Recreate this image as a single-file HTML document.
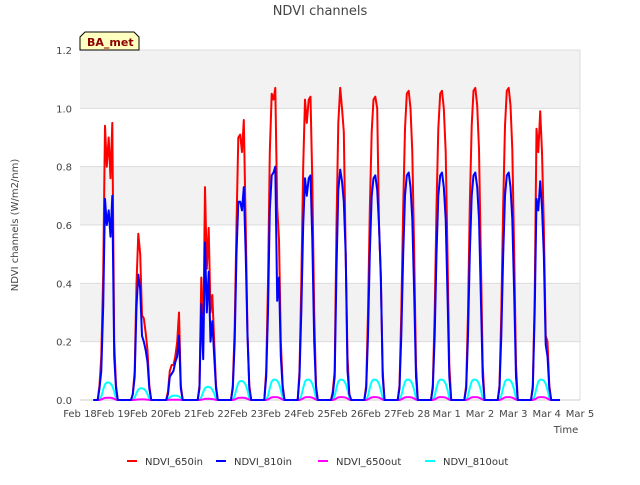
<!DOCTYPE html>
<html><head><meta charset="utf-8"><style>
body{margin:0;background:#fff;}
svg text{font-family:"DejaVu Sans","Liberation Sans",sans-serif;}
</style></head><body>
<svg id="chart" width="640" height="480" xmlns="http://www.w3.org/2000/svg">
<rect width="640" height="480" fill="#fff"/>
<g id="bands"></g>
<g id="grid"></g>
<g id="yticks"></g>
<g id="xticks"></g>
<g id="series"></g>
<text x="320" y="15" text-anchor="middle" font-size="13" fill="#444">NDVI channels</text>
<text transform="translate(18,225) rotate(-90)" text-anchor="middle" font-size="10" fill="#444">NDVI channels (W/m2/nm)</text>
<text x="566" y="433" text-anchor="middle" font-size="10" fill="#444">Time</text>
<g>
<path d="M80,50 L80,37 L85,32 L134,32 L139,37 L139,50 Z" fill="#ffffc0" stroke="#000" stroke-width="1"/>
<text x="87" y="46" font-size="11" font-weight="bold" fill="#8b0000">BA_met</text>
</g>
<g id="legend"></g>
</svg>
<script>
const yTicks=[0,0.2,0.4,0.6,0.8,1.0,1.2];
const xTickLabels=["Feb 18","Feb 19","Feb 20","Feb 21","Feb 22","Feb 23","Feb 24","Feb 25","Feb 26","Feb 27","Feb 28","Mar 1","Mar 2","Mar 3","Mar 4","Mar 5"];
const dayIndex=[1,2,3,4,5,6,7,8,9,10,11,12,13,14];
const in650=[
[0,0.05,0.15,0.43,0.94,0.8,0.9,0.76,0.95,0.2,0.05,0,0],
[0,0.02,0.1,0.4,0.57,0.5,0.29,0.28,0.23,0.17,0.05,0,0],
[0,0,0.03,0.1,0.12,0.12,0.15,0.2,0.3,0.05,0,0,0],
[0,0.05,0.42,0.2,0.73,0.45,0.59,0.3,0.36,0.2,0.05,0,0],
[0,0.05,0.25,0.6,0.9,0.91,0.85,0.96,0.6,0.23,0.05,0,0],
[0,0.1,0.4,0.85,1.05,1.03,1.07,0.66,0.55,0.2,0.05,0,0],
[0,0.1,0.4,0.8,1.03,0.95,1.03,1.04,0.75,0.3,0.05,0,0],
[0,0.03,0.1,0.6,0.95,1.07,1.0,0.92,0.5,0.15,0.02,0,0],
[0,0.05,0.3,0.65,0.92,1.03,1.04,1.0,0.6,0.42,0.1,0,0],
[0,0.05,0.3,0.66,0.93,1.05,1.06,1.0,0.85,0.5,0.12,0,0],
[0,0.05,0.3,0.66,0.93,1.05,1.06,1.0,0.85,0.5,0.12,0,0],
[0,0.05,0.3,0.67,0.94,1.06,1.07,1.01,0.86,0.5,0.12,0,0],
[0,0.05,0.3,0.67,0.94,1.06,1.07,1.01,0.86,0.5,0.12,0,0],
[0,0.05,0.35,0.93,0.85,0.99,0.85,0.6,0.22,0.2,0.05,0,0]];
const in810=[
[0,0.04,0.1,0.32,0.69,0.6,0.65,0.56,0.7,0.15,0.04,0,0],
[0,0.02,0.08,0.32,0.43,0.38,0.22,0.2,0.17,0.13,0.04,0,0],
[0,0,0.02,0.08,0.09,0.1,0.13,0.15,0.22,0.04,0,0,0],
[0,0.04,0.33,0.14,0.54,0.3,0.44,0.2,0.27,0.15,0.04,0,0],
[0,0.04,0.2,0.5,0.68,0.68,0.65,0.73,0.5,0.22,0.04,0,0],
[0,0.08,0.3,0.65,0.77,0.78,0.8,0.34,0.42,0.15,0.04,0,0],
[0,0.08,0.3,0.6,0.76,0.7,0.76,0.77,0.55,0.2,0.04,0,0],
[0,0.02,0.08,0.45,0.72,0.79,0.75,0.68,0.5,0.1,0.02,0,0],
[0,0.04,0.22,0.5,0.7,0.76,0.77,0.72,0.6,0.43,0.08,0,0],
[0,0.04,0.22,0.5,0.7,0.77,0.78,0.73,0.62,0.36,0.08,0,0],
[0,0.04,0.22,0.5,0.7,0.77,0.78,0.73,0.62,0.36,0.08,0,0],
[0,0.04,0.22,0.5,0.7,0.77,0.78,0.73,0.62,0.36,0.08,0,0],
[0,0.04,0.22,0.5,0.7,0.77,0.78,0.73,0.62,0.36,0.08,0,0],
[0,0.04,0.3,0.69,0.65,0.75,0.66,0.5,0.19,0.15,0.04,0,0]];
const out650=[0.008,0.002,0.001,0.004,0.008,0.01,0.01,0.01,0.01,0.01,0.01,0.01,0.01,0.01];
const out810=[0.06,0.04,0.015,0.045,0.065,0.07,0.07,0.07,0.07,0.07,0.07,0.07,0.07,0.07];
const outShape=[0,0,0.2,0.6,0.9,1,1,0.95,0.8,0.5,0.1,0,0];

const X0=80,X1=580,Y0=400,Y1=50;
const xs=d=>X0+d*(X1-X0)/15.0;
const ys=v=>Y0-(v/1.2)*(Y0-Y1);
const NS="http://www.w3.org/2000/svg";
function mk(tag,attrs,parent){const e=document.createElementNS(NS,tag);for(const k in attrs)e.setAttribute(k,attrs[k]);parent.appendChild(e);return e;}
const bands=document.getElementById('bands');
for(let i=0;i<yTicks.length-1;i++){
  if(i%2===1){const r=mk('rect',{x:X0,y:ys(yTicks[i+1]),width:X1-X0,height:ys(yTicks[i])-ys(yTicks[i+1]),fill:'#f2f2f2'},bands);
  
  }
}
const grid=document.getElementById('grid'),yt=document.getElementById('yticks');
yTicks.forEach(v=>{
  const l=mk('line',{x1:X0,x2:X1,y1:ys(v),y2:ys(v),stroke:'#dcdcdc','stroke-width':1},grid);
  
  
  const t=mk('text',{x:X0-8,y:ys(v)+4,'text-anchor':'end','font-size':10,fill:'#444'},yt);
  t.textContent=v.toFixed(1);
  
  
});
mk('line',{x1:X1,x2:X1,y1:Y1,y2:Y0,stroke:'#dcdcdc'},grid);
mk('line',{x1:X0,x2:X1,y1:Y0,y2:Y0,stroke:'#ccc'},grid);
const xt=document.getElementById('xticks');
xTickLabels.forEach((s,i)=>{
  const t=mk('text',{x:xs(i),y:Y0+17,'text-anchor':'middle','font-size':10,fill:'#444'},xt);
  t.textContent=s;
  
  
});
const offs=[];for(let j=0;j<13;j++)offs.push(-0.47+j*0.055);
function build(getVal){
  let pts=[[xs(0.4),ys(0)]];
  dayIndex.forEach((d,i)=>{for(let j=0;j<13;j++)pts.push([xs(d+offs[j]),ys(getVal(i,j))]);});
  pts.push([xs(14.4),ys(0)]);
  return pts.map((p,k)=>(k?'L':'M')+p[0].toFixed(1)+','+p[1].toFixed(1)).join('');
}
const ser=document.getElementById('series');
const defs=[
 ['series-ndvi-810out','#00ffff',(i,j)=>out810[i]*outShape[j]],
 ['series-ndvi-650out','#ff00ff',(i,j)=>out650[i]*outShape[j]],
 ['series-ndvi-650in','#ff0000',(i,j)=>in650[i][j]],
 ['series-ndvi-810in','#0000ff',(i,j)=>in810[i][j]]];
defs.forEach(d=>{
  const p=mk('path',{d:build(d[2]),fill:'none',stroke:d[1],'stroke-width':2,'stroke-linejoin':'round'},ser);
  
  
});
const lg=document.getElementById('legend');
const items=[['NDVI_650in','#ff0000',127],['NDVI_810in','#0000ff',216],['NDVI_650out','#ff00ff',318],['NDVI_810out','#00ffff',425]];
items.forEach(it=>{
  const g=mk('g',{},lg);
  
  
  mk('line',{x1:it[2],x2:it[2]+10,y1:461,y2:461,stroke:it[1],'stroke-width':2},g);
  const t=mk('text',{x:it[2]+18,y:465,'font-size':10,fill:'#333'},g);
  t.textContent=it[0];
});
</script>
</body></html>
